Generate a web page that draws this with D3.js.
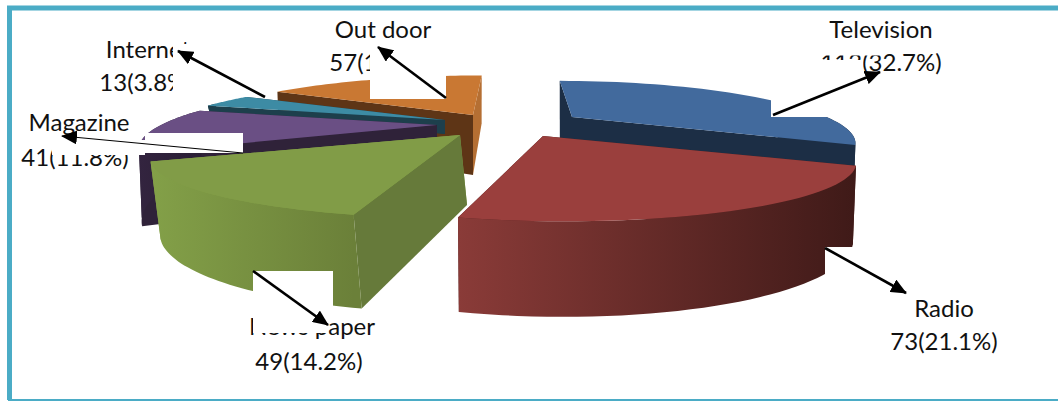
<!DOCTYPE html>
<html><head><meta charset="utf-8">
<script src="https://cdn.jsdelivr.net/npm/d3@7"></script>
<style>html,body{margin:0;padding:0;background:#fff}svg{display:block}text{font-family:Lato,"Open Sans",sans-serif;font-size:24px;fill:#111;text-anchor:middle}</style>
</head><body>
<script>
// Data
const categories = ["Television","Radio","News paper","Magazine","Internet","Out door"];
const counts = [113,73,49,41,13,57];
const percents = [32.7,21.1,14.2,11.8,3.8,16.5];

// Styling / layout per slice (same order as the categories)
const topColors   = ["#426a9d","#9a3f3d","#819c47","#6a4f84","#3d8ba4","#c97833"];
const startWalls  = ["#1c2e45","#4a1f1d","#667a3a","#2f2239","#1d3f4c","#5e3516"];
const endWalls    = ["#1c2e45","#4a1f1d","#83a048","#2f2239","#1d3f4c","#b56f33"];
const outerFrom   = ["#1c2e45","#8a3b38","#83a048","#33243f","#1d3f4c","#b56f33"];
const outerTo     = ["#1c2e45","#3f1a18","#6b8039","#2a1e35","#1d3f4c","#b56f33"];
const apexX  = [572,543,460,437,445,473];
const apexY  = [117,136,135,125,120,115];
const scaleK = [0.95,1.06,1.07,1.03,1.03,1.04];
const scaleV = [1,0.95,0.92,1,1,1];
const shear  = [0.34,0.25,0,0,0,-0.22];
const depth  = [70,70,70,65,14,60];
const baseDX = [0,0,7,0,0,0];
const drawOrder = [5,4,3,2,0,1];

const W=1058,H=401,Rx=268,Ry=52.5,persp=0.38,bottomY=1.3,bottomX=0.99;

const svg=d3.select("body").append("svg").attr("width",W).attr("height",H);
const defs=svg.append("defs");

const slices=d3.pie().sort(null).value(d=>d)(counts);

function proj(i,theta,bottom){
  const u=Math.sin(theta),v=Math.cos(theta),s=1/(1+persp*v);
  const dy=-Ry*v*s*scaleK[i]*scaleV[i];
  const dx=Rx*u*s*scaleK[i]+shear[i]*dy;
  return bottom
    ? [apexX[i]+baseDX[i]+dx*bottomX, apexY[i]+depth[i]+dy*bottomY]
    : [apexX[i]+dx, apexY[i]+dy];
}
const apex=(i,bottom)=>bottom?[apexX[i]+baseDX[i],apexY[i]+depth[i]]:[apexX[i],apexY[i]];
const line=d3.line();
const samples=(a,b)=>d3.range(0,41).map(k=>a+(b-a)*k/40);
const frontA=70*Math.PI/180, frontB=290*Math.PI/180;

drawOrder.forEach(i=>{
  const a=slices[i].startAngle,b=slices[i].endAngle;
  const g=svg.append("g").attr("class","slice");
  // cut walls
  g.append("path").attr("fill",endWalls[i]).attr("d",line([apex(i,false),proj(i,b,false),proj(i,b,true),apex(i,true)])+"Z");
  g.append("path").attr("fill",startWalls[i]).attr("d",line([apex(i,false),proj(i,a,false),proj(i,a,true),apex(i,true)])+"Z");
  // outer wall
  const oa=Math.max(a,frontA),ob=Math.min(b,frontB);
  if(ob>oa){
    const t=samples(oa,ob);
    const topArc=t.map(x=>proj(i,x,false)),botArc=t.map(x=>proj(i,x,true)).reverse();
    const xs=topArc.map(p=>p[0]);
    const id="wall"+i;
    const lg=defs.append("linearGradient").attr("id",id).attr("gradientUnits","userSpaceOnUse")
      .attr("x1",d3.min(xs)).attr("x2",d3.max(xs)).attr("y1",0).attr("y2",0);
    lg.append("stop").attr("offset",0).attr("stop-color",outerFrom[i]);
    lg.append("stop").attr("offset",1).attr("stop-color",outerTo[i]);
    g.append("path").attr("fill",`url(#${id})`).attr("d",line(topArc.concat(botArc))+"Z");
  }
  // top face
  const arc=samples(a,b).map(x=>proj(i,x,false));
  g.append("path").attr("fill",topColors[i]).attr("d",line([apex(i,false)].concat(arc))+"Z");
});

// Labels
const labelX =[881,944,312,79,148,383];
const labelX2=[881,944,309,75,146,383];
const labelY1=[38,317,335,131,58,38];
const labelY2=[71,350,370,166,91,71];
categories.forEach((c,i)=>{
  svg.append("text").attr("x",labelX[i]).attr("y",labelY1[i]).text(c);
  svg.append("text").attr("x",labelX2[i]).attr("y",labelY2[i]).text(`${counts[i]}(${percents[i]}%)`);
});

// White masks over parts of the figure
const masks=[[771,60,92,57],[820,50,63,5.5],[825,247,40,33],[370,44,76,55],[173,44,92,53],
  [145,133,98,20],[52,140,93,15],[253,271,80,35],[253,306,75,27]];
svg.append("g").selectAll("rect").data(masks).join("rect")
  .attr("x",d=>d[0]).attr("y",d=>d[1]).attr("width",d=>d[2]).attr("height",d=>d[3]).attr("fill","#fff");

// Arrows
const arrows=[[773,115,880,72,2.6],[825,248,906,293,2.6],[253,271,328,325,2.6],[243,153,62,136,1.2],[265,97,178,51,2.6],[446,98,378,47,2.6]];
const mk=defs.append("marker").attr("id","head").attr("markerUnits","userSpaceOnUse").attr("viewBox","0 0 16 14")
  .attr("refX",15).attr("refY",7).attr("markerWidth",16).attr("markerHeight",14).attr("orient","auto");
mk.append("path").attr("d","M0,0L16,7L0,14Z").attr("fill","#000");
svg.append("g").selectAll("line").data(arrows).join("line")
  .attr("x1",d=>d[0]).attr("y1",d=>d[1]).attr("x2",d=>d[2]).attr("y2",d=>d[3])
  .attr("stroke","#000").attr("stroke-width",d=>d[4]).attr("marker-end","url(#head)");

// Frame
svg.append("path").attr("d",`M${W+5},8H9.5V400`).attr("fill","none").attr("stroke","#4bacc6").attr("stroke-width",5);
svg.append("rect").attr("x",8).attr("y",399).attr("width",W).attr("height",2).attr("fill","#4bacc6");
</script>
</body></html>
